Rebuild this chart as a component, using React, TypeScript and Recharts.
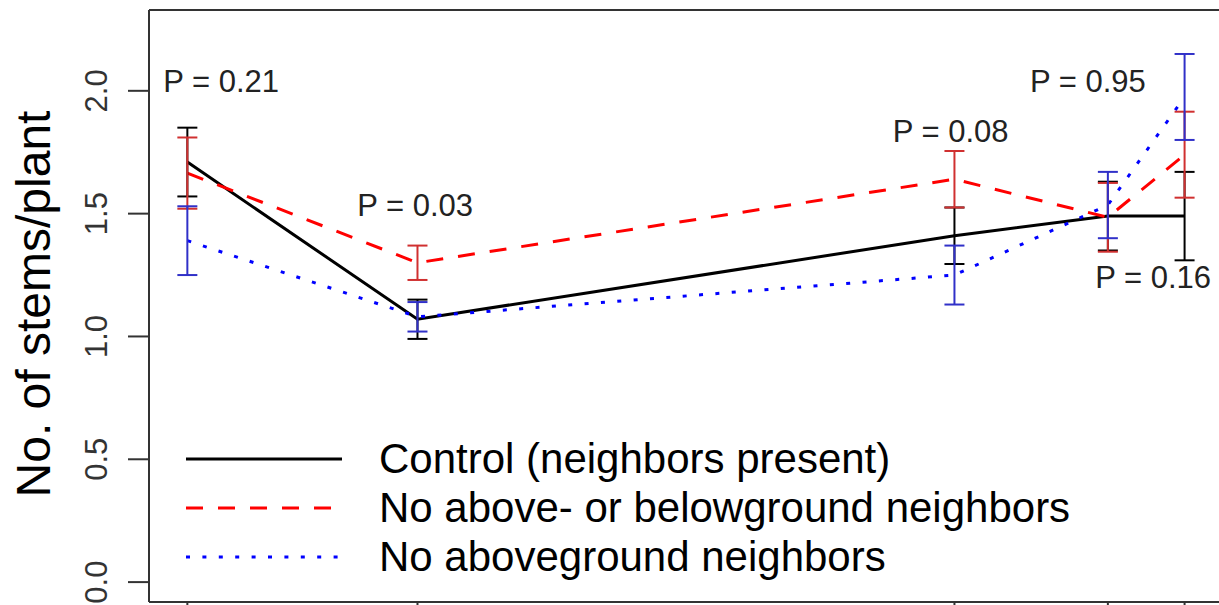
import React from 'react'
import { ComposedChart, Line, ErrorBar, XAxis, YAxis, ReferenceDot, ReferenceLine, Legend } from 'recharts'

// time points (x positions of the measurements)
const xValues = [0, 3, 10, 12, 13]
const yTicks = [0, 0.5, 1.0, 1.5, 2.0]
const xDomain = [-0.5, 13.54]
const yDomain = [-0.081, 2.329]

// mean number of stems per plant and standard error
const controlMean = [1.71, 1.07, 1.41, 1.49, 1.49]
const controlErr = [0.14, 0.08, 0.115, 0.14, 0.18]
const noNeighborsMean = [1.665, 1.3, 1.64, 1.485, 1.74]
const noNeighborsErr = [0.145, 0.07, 0.115, 0.14, 0.175]
const noAboveMean = [1.39, 1.08, 1.25, 1.535, 1.975]
const noAboveErr = [0.14, 0.06, 0.12, 0.135, 0.175]

const seriesNames = [
  'Control (neighbors present)',
  'No above- or belowground neighbors',
  'No aboveground neighbors',
]

// P values written next to each time point
const pTexts = ['P = 0.21', 'P = 0.03', 'P = 0.08', 'P = 0.95', 'P = 0.16']
const pX = [0.44, 2.97, 9.95, 11.74, 12.59]
const pY = [2.038, 1.536, 1.835, 2.038, 1.241]

const data = xValues.map((x, i) => ({
  x,
  control: controlMean[i],
  controlErr: controlErr[i],
  none: noNeighborsMean[i],
  noneErr: noNeighborsErr[i],
  above: noAboveMean[i],
  aboveErr: noAboveErr[i],
}))

const styles = [
  { key: 'control', color: '#000000', bar: '#000000', dash: undefined as string | undefined },
  { key: 'none', color: '#ff0000', bar: '#d03030', dash: '17 15' },
  { key: 'above', color: '#0000ff', bar: '#3030c8', dash: '4 12.4' },
]

const axisColor = '#333333'

function YTick(props: any) {
  const { x, y, payload } = props
  const bx = x - 19
  return (
    <text
      x={bx}
      y={y}
      transform={`rotate(-90, ${bx}, ${y})`}
      textAnchor="middle"
      fontSize={31}
      fill="#333"
    >
      {payload.value.toFixed(1)}
    </text>
  )
}

function NoTick() {
  return <g />
}

function LegendBox() {
  return (
    <div style={{ fontSize: 42, color: '#000' }}>
      {styles.map((s, i) => (
        <div key={s.key} style={{ display: 'flex', alignItems: 'center', height: 49 }}>
          <svg width={156} height={10} style={{ marginRight: 37 }}>
            <line
              x1={0}
              y1={5}
              x2={156}
              y2={5}
              stroke={s.color}
              strokeWidth={3}
              strokeDasharray={s.dash}
            />
          </svg>
          <span style={{ lineHeight: '49px', whiteSpace: 'nowrap' }}>{seriesNames[i]}</span>
        </div>
      ))}
    </div>
  )
}

export default function App() {
  return (
    <div
      style={{
        position: 'absolute',
        left: 0,
        top: 0,
        width: 1219,
        height: 605,
        overflow: 'hidden',
        background: '#fff',
        fontFamily: '"Liberation Sans", Arial, sans-serif',
      }}
    >
      <ComposedChart width={1230} height={622} data={data} margin={{ top: 10, right: 4, bottom: 0, left: 0 }}>
        <XAxis
          dataKey="x"
          type="number"
          domain={xDomain}
          ticks={xValues}
          interval={0}
          allowDataOverflow
          height={20}
          tick={NoTick}
          tickSize={8}
          axisLine={{ stroke: axisColor, strokeWidth: 2 }}
          tickLine={{ stroke: axisColor, strokeWidth: 2 }}
        />
        <YAxis
          type="number"
          domain={yDomain}
          ticks={yTicks}
          interval={0}
          allowDataOverflow
          width={149}
          tickSize={21}
          tick={YTick}
          axisLine={{ stroke: axisColor, strokeWidth: 2 }}
          tickLine={{ stroke: axisColor, strokeWidth: 2 }}
          label={(p: any) => {
            const vb = p.viewBox || { x: 0, y: 10, width: 149, height: 592 }
            const cx = 50
            const cy = vb.y + vb.height / 2 - 2
            return (
              <text
                x={cx}
                y={cy}
                transform={`rotate(-90, ${cx}, ${cy})`}
                textAnchor="middle"
                fontSize={48}
                fill="#000"
              >
                No. of stems/plant
              </text>
            )
          }}
        />

        {/* top edge of the plot box */}
        <ReferenceLine y={yDomain[1]} stroke={axisColor} strokeWidth={2} ifOverflow="visible" />

        {styles.map((s, i) => (
          <Line
            key={s.key}
            type="linear"
            dataKey={s.key}
            name={seriesNames[i]}
            stroke={s.color}
            strokeWidth={3}
            strokeDasharray={s.dash}
            dot={false}
            activeDot={false}
            isAnimationActive={false}
          />
        ))}

        {/* error bars drawn on top of the lines */}
        {styles.map((s) => (
          <Line
            key={s.key + '-err'}
            type="linear"
            dataKey={s.key}
            stroke="none"
            dot={false}
            activeDot={false}
            legendType="none"
            isAnimationActive={false}
          >
            <ErrorBar
              dataKey={s.key + 'Err'}
              direction="y"
              width={10}
              stroke={s.bar}
              strokeWidth={2}
              isAnimationActive={false}
            />
          </Line>
        ))}

        {pTexts.map((t, i) => (
          <ReferenceDot
            key={t}
            x={pX[i]}
            y={pY[i]}
            r={0}
            fill="none"
            stroke="none"
            label={{ value: t, position: 'center', fontSize: 31, fill: '#222' }}
          />
        ))}

        <Legend
          layout="horizontal"
          verticalAlign="middle"
          align="center"
          content={LegendBox}
          wrapperStyle={{ left: 186, top: 434, width: 'auto', height: 'auto' }}
        />
      </ComposedChart>
    </div>
  )
}
